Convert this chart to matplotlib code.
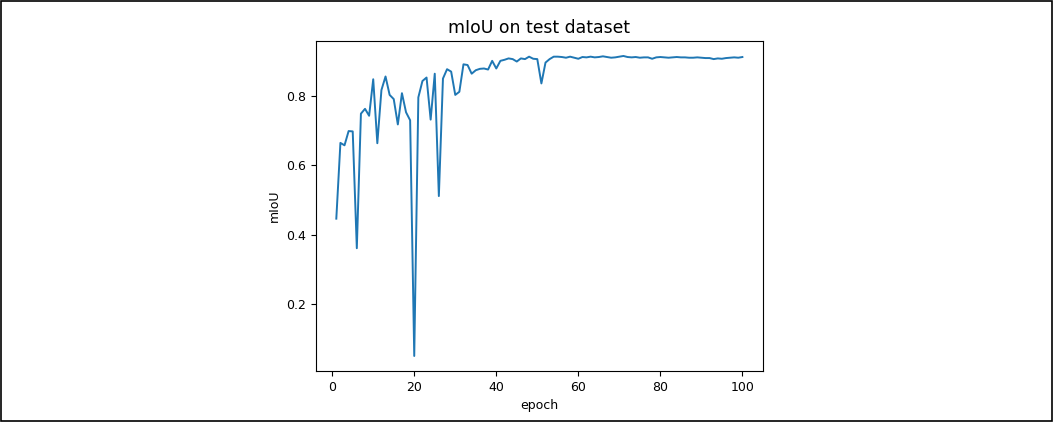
import numpy as np
import matplotlib
matplotlib.use("Agg")
import matplotlib.pyplot as plt
from matplotlib.patches import Rectangle

# mIoU per epoch
epochs = list(range(1, 101))
miou = [
    0.446, 0.664, 0.657, 0.698, 0.697, 0.361, 0.748, 0.762, 0.742, 0.847,
    0.663, 0.816, 0.855, 0.802, 0.790, 0.717, 0.807, 0.752, 0.729, 0.051,
    0.795, 0.842, 0.852, 0.731, 0.863, 0.511, 0.849, 0.876, 0.869, 0.802,
    0.811, 0.890, 0.888, 0.863, 0.873, 0.877, 0.878, 0.875, 0.900, 0.878,
    0.900, 0.903, 0.907, 0.905, 0.898, 0.907, 0.905, 0.912, 0.906, 0.905,
    0.835, 0.895, 0.905, 0.912, 0.912, 0.911, 0.909, 0.912, 0.909, 0.906,
    0.911, 0.910, 0.912, 0.910, 0.911, 0.913, 0.911, 0.909, 0.910, 0.912,
    0.914, 0.911, 0.910, 0.911, 0.909, 0.910, 0.910, 0.906, 0.910, 0.911,
    0.910, 0.909, 0.910, 0.911, 0.910, 0.910, 0.909, 0.909, 0.910, 0.909,
    0.908, 0.908, 0.905, 0.907, 0.906, 0.908, 0.909, 0.910, 0.909, 0.911,
]

fig = plt.figure(figsize=(10.53, 4.22), dpi=100)
ax = fig.add_axes([0.3001, 0.1209, 0.4242, 0.782])
ax.plot(epochs, miou, color='#1f77b4', linewidth=1.4)
ax.set_title("mIoU on test dataset", fontsize=12.4, pad=6)
ax.set_xlabel("epoch", fontsize=9)
ax.set_ylabel("mIoU", fontsize=9)
ax.set_xticks([0, 20, 40, 60, 80, 100])
ax.set_yticks([0.2, 0.4, 0.6, 0.8])
ax.tick_params(labelsize=9)

# thin frame round the whole picture
fig.patches.append(Rectangle((0.001, 0.002), 0.998, 0.996, transform=fig.transFigure,
                             fill=False, edgecolor='black', linewidth=1.2))

fig.savefig("out.png", dpi=100)
